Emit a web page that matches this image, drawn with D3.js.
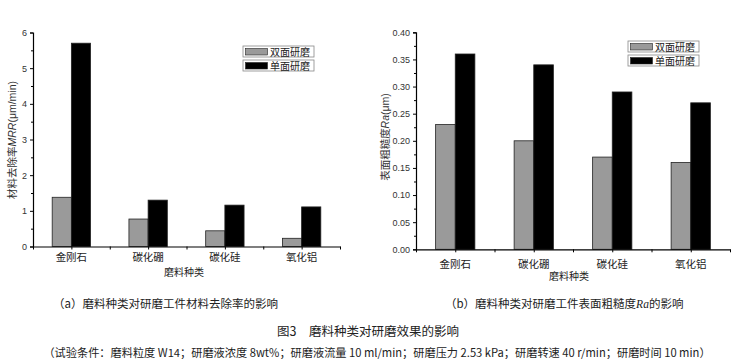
<!DOCTYPE html>
<html>
<head>
<meta charset="utf-8">
<script src="https://cdn.jsdelivr.net/npm/d3@7"></script>
<style>
  body { margin: 0; background: #fff; }
  svg { display: block; }
  .tick text { font-family: "Liberation Sans", Arial, sans-serif; }
</style>
</head>
<body>
<div id="chart"></div>
<script>
"use strict";

var categories = ['金刚石', '碳化硼', '碳化硅', '氧化铝'];
var rightCategories = ['金刚石', '碳化硼', '碳化硅', '氧化铝'];
var seriesNames = ['双面研磨', '单面研磨'];
var mrrDouble = [1.38, 0.77, 0.44, 0.23];
var mrrSingle = [5.70, 1.30, 1.16, 1.11];
var raDouble = [0.23, 0.20, 0.17, 0.16];
var raSingle = [0.36, 0.34, 0.29, 0.27];
var mrrTicks = [0, 1, 2, 3, 4, 5, 6];
var raTicks = [0, 0.05, 0.10, 0.15, 0.20, 0.25, 0.30, 0.35, 0.40];

var W = 735, H = 364;
var cjk = '"Noto Sans CJK SC", "Noto Sans", sans-serif';
var colors = ['#9a9a9a', '#000000'];

var svg = d3.select('#chart').append('svg').attr('width', W).attr('height', H).attr('viewBox', '0 0 ' + W + ' ' + H);

function drawPanel(opt) {
  var g = svg.append('g');
  var x = d3.scaleLinear().domain([0.5, 4.5]).range([opt.x0, opt.x1]);
  var y = d3.scaleLinear().domain([0, opt.ymax]).range([opt.y0, opt.y1]);
  var bw = 0.25;

  // bars
  [opt.d1, opt.d2].forEach(function (vals, si) {
    g.selectAll('.bar' + si).data(vals).enter().append('rect')
      .attr('x', function (d, i) { return x(i + 1 - bw + si * bw); })
      .attr('width', x(1 + bw) - x(1))
      .attr('y', function (d) { return y(d); })
      .attr('height', function (d) { return y(0) - y(d); })
      .attr('fill', colors[si])
      .attr('stroke', '#222').attr('stroke-width', 0.8);
  });

  // y axis major + minor
  var yAxis = d3.axisLeft(y).tickValues(opt.ticks).tickFormat(opt.fmt).tickSize(3).tickPadding(3);
  var ya = g.append('g').attr('transform', 'translate(' + opt.x0 + ',0)').call(yAxis);
  ya.selectAll('text').attr('font-size', 9).attr('fill', '#333');
  var minor = [];
  for (var i = 0; i < opt.ticks.length - 1; i++) minor.push((opt.ticks[i] + opt.ticks[i + 1]) / 2);
  g.append('g').attr('transform', 'translate(' + opt.x0 + ',0)')
    .call(d3.axisLeft(y).tickValues(minor).tickFormat('').tickSize(2))
    .select('.domain').remove();

  // x axis: ticks at categories and midpoints
  var xTicks = d3.range(0.5, 4.51, 0.5);
  var xa = g.append('g').attr('transform', 'translate(0,' + opt.y0 + ')')
    .call(d3.axisBottom(x).tickValues(xTicks).tickFormat('').tickSize(3).tickSizeOuter(0));
  xa.select('.domain').attr('stroke-width', 1.2);
  ya.select('.domain').attr('stroke-width', 1.2);

  g.selectAll('.cat').data(opt.cats).enter().append('text')
    .attr('x', function (d, i) { return x(i + 1); })
    .attr('y', opt.catY)
    .attr('text-anchor', 'middle')
    .attr('font-family', cjk).attr('font-size', 10.5).attr('fill', '#222')
    .text(function (d) { return d; });

  g.append('text').attr('x', opt.xlabX).attr('y', opt.xlabY)
    .attr('text-anchor', 'middle').attr('font-family', cjk).attr('font-size', 10).attr('fill', '#222')
    .text('磨料种类');

  var yl = g.append('text')
    .attr('transform', 'translate(' + opt.ylabX + ',' + opt.ylabY + ') rotate(-90)')
    .attr('text-anchor', 'middle').attr('font-family', cjk).attr('font-size', 10.5).attr('fill', '#333');
  opt.ylab(yl);

  // legend
  seriesNames.forEach(function (name, si) {
    var ly = opt.legY + si * 14;
    g.append('rect').attr('x', opt.legX).attr('y', ly).attr('width', 71).attr('height', 11)
      .attr('fill', 'none').attr('stroke', '#888').attr('stroke-width', 0.8);
    g.append('rect').attr('x', opt.legX + 2.5).attr('y', ly + 2.5).attr('width', 22).attr('height', 6.5)
      .attr('fill', colors[si]).attr('stroke', '#222').attr('stroke-width', 0.6);
    g.append('text').attr('x', opt.legX + 27).attr('y', ly + 9.5)
      .attr('font-family', cjk).attr('font-size', 10).attr('fill', '#222').text(name);
  });
}

drawPanel({
  x0: 33, x1: 340, y0: 246.5, y1: 32.5, ymax: 6,
  ticks: mrrTicks, fmt: d3.format('d'),
  d1: mrrDouble, d2: mrrSingle, cats: categories,
  catY: 261, xlabX: 184, xlabY: 276,
  ylabX: 16, ylabY: 140,
  ylab: function (t) {
    t.append('tspan').text('材料去除率');
    t.append('tspan').attr('font-style', 'italic').attr('font-family', '"Liberation Sans", Arial, sans-serif').text('MRR');
    t.append('tspan').attr('font-family', '"Liberation Sans", Arial, sans-serif').text('(μm/min)');
  },
  legX: 243, legY: 46
});

drawPanel({
  x0: 416, x1: 730, y0: 249.3, y1: 32.3, ymax: 0.4,
  ticks: raTicks, fmt: d3.format('.2f'),
  d1: raDouble, d2: raSingle, cats: rightCategories,
  catY: 268, xlabX: 569, xlabY: 280,
  ylabX: 389, ylabY: 137,
  ylab: function (t) {
    t.append('tspan').text('表面粗糙度');
    t.append('tspan').attr('font-style', 'italic').attr('font-family', '"Liberation Sans", Arial, sans-serif').text('Ra');
    t.append('tspan').attr('font-family', '"Liberation Sans", Arial, sans-serif').text('(μm)');
  },
  legX: 628, legY: 41
});

// captions
function caption(xp, yp, size, parts, anchor) {
  var t = svg.append('text').attr('x', xp).attr('y', yp).attr('font-size', size)
    .attr('font-family', cjk).attr('fill', '#222').attr('text-anchor', anchor || 'start');
  parts.forEach(function (p) {
    var s = t.append('tspan').text(p[0]);
    if (p[1]) s.attr('font-style', 'italic').attr('font-family', '"Liberation Serif", serif');
  });
}
caption(53, 308, 11.5, [['（a）磨料种类对研磨工件材料去除率的影响']]);
caption(445, 308, 11.5, [['（b）磨料种类对研磨工件表面粗糙度'], ['Ra', true], ['的影响']]);
caption(368, 336, 12.5, [['图3　磨料种类对研磨效果的影响']], 'middle');
caption(377, 357, 11.2, [['（试验条件：磨料粒度 W14；研磨液浓度 8wt%；研磨液流量 10 ml/min；研磨压力 2.53 kPa；研磨转速 40 r/min；研磨时间 10 min）']], 'middle');
</script>
</body>
</html>
